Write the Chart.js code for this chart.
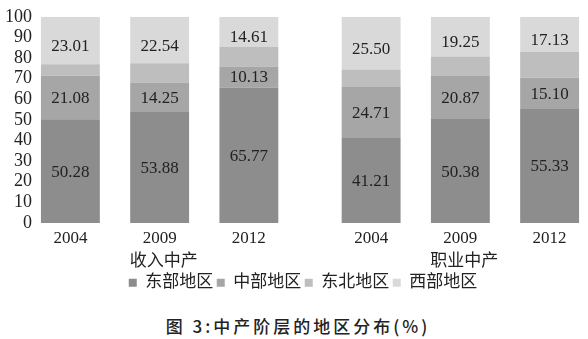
<!DOCTYPE html>
<html>
<head>
<meta charset="utf-8">
<script src="https://cdn.jsdelivr.net/npm/chart.js@4"></script>
<style>
  body { margin: 0; background: #fff; width: 588px; height: 339px; position: relative; overflow: hidden; }
  #wrap { position: absolute; left: 0; top: 0; width: 588px; height: 300px; }
  #caption { position: absolute; top: 313px; left: 0; width: 596px; text-align: center; font: 500 17px "Noto Sans CJK SC", sans-serif; letter-spacing: 3px; color: #222; white-space: nowrap; }
</style>
</head>
<body>
<div id="wrap"><canvas id="regionChart"></canvas></div>
<div id="caption">图 3:中产阶层的地区分布(%)</div>
<script>
const years = ['2004', '2009', '2012'];
const groups = ['收入中产', '职业中产'];
const regions = ['东部地区', '中部地区', '东北地区', '西部地区'];

// shares per bar: 收入中产 2004/2009/2012, then 职业中产 2004/2009/2012
const east = [50.28, 53.88, 65.77, 41.21, 50.38, 55.33];
const central = [21.08, 14.25, 10.13, 24.71, 20.87, 15.10];
const northeast = [5.63, 9.33, 9.49, 8.58, 9.50, 12.44];
const west = [23.01, 22.54, 14.61, 25.50, 19.25, 17.13];

const regionColors = ['#8d8d8d', '#a6a6a6', '#bebebe', '#d9d9d9'];
const showValues = [true, true, false, true];
const labelNudge = [0, 0, 0, 5];

// each group takes 3 slots plus a little extra space before the next one
const groupStep = 3.37;
const positions = groups.flatMap((g, gi) => years.map((y, i) => gi * groupStep + i));

const serif = '"Liberation Serif", "Times New Roman", "Noto Sans CJK SC", serif';
const plotBottom = 223;
const legendMid = 286;

const series = [east, central, northeast, west];
const datasets = regions.map((name, k) => ({
  label: name,
  data: series[k].map((v, i) => ({ x: positions[i], y: v })),
  backgroundColor: regionColors[k],
  borderWidth: 0,
  barPercentage: 0.66,
  categoryPercentage: 1
}));

const valueLabels = {
  id: 'valueLabels',
  afterDatasetsDraw(chart) {
    const ctx = chart.ctx;
    ctx.save();
    ctx.font = '17px ' + serif;
    ctx.fillStyle = '#222';
    ctx.textAlign = 'center';
    ctx.textBaseline = 'middle';
    chart.data.datasets.forEach((ds, k) => {
      if (!showValues[k]) return;
      chart.getDatasetMeta(k).data.forEach((bar, i) => {
        const mid = (bar.y + bar.base) / 2;
        ctx.fillText(series[k][i].toFixed(2), bar.x, mid + 1 + labelNudge[k]);
      });
    });
    ctx.restore();
  }
};

// group names sit under the middle bar of each group
const groupLabels = {
  id: 'groupLabels',
  afterDraw(chart) {
    const ctx = chart.ctx;
    const xs = chart.scales.x;
    ctx.save();
    ctx.font = '17px ' + serif;
    ctx.fillStyle = '#222';
    ctx.textAlign = 'center';
    ctx.textBaseline = 'middle';
    groups.forEach((g, gi) => {
      const x = xs.getPixelForValue(gi * groupStep + 1) + 4;
      ctx.fillText(g, x, chart.chartArea.bottom + 39);
    });
    ctx.restore();
  }
};

// move the legend row slightly right and pin its vertical centre
const legendShift = {
  id: 'legendShift',
  afterUpdate(chart) {
    const lg = chart.legend;
    const dy = legendMid - (lg.top + lg.bottom) / 2;
    lg.left += 12;
    lg.right += 12;
    lg.top += dy;
    lg.bottom += dy;
    lg.adjustHitBoxes();
  }
};

new Chart(document.getElementById('regionChart'), {
  type: 'bar',
  data: { datasets },
  options: {
    responsive: true,
    maintainAspectRatio: false,
    animation: false,
    layout: { padding: { top: 4, right: 6, bottom: 0, left: 0 } },
    scales: {
      x: {
        type: 'linear',
        stacked: true,
        offset: false,
        min: -0.363,
        max: groupStep + 2 + 0.363,
        grid: { display: false, drawTicks: false },
        border: { display: false },
        afterBuildTicks(scale) {
          scale.ticks = positions.map(v => ({ value: v }));
        },
        afterFit(scale) {
          const lgH = scale.chart.legend ? scale.chart.legend.height : 0;
          scale.height = Math.max(20, scale.chart.height - lgH - plotBottom);
        },
        ticks: {
          padding: 5,
          color: '#222',
          font: { family: serif, size: 17 },
          autoSkip: false,
          maxRotation: 0,
          callback(value, index) { return years[index % years.length]; }
        }
      },
      y: {
        stacked: true,
        min: 0,
        max: 100,
        grid: { display: false, drawTicks: false },
        border: { display: false },
        afterFit(scale) { scale.width = 38; },
        ticks: {
          stepSize: 10,
          autoSkip: false,
          padding: 6,
          color: '#222',
          font: { family: serif, size: 18 }
        }
      }
    },
    plugins: {
      legend: {
        position: 'bottom',
        labels: {
          boxWidth: 8,
          boxHeight: 8,
          padding: 3.5,
          color: '#222',
          font: { family: serif, size: 17 }
        }
      },
      tooltip: { enabled: false }
    }
  },
  plugins: [valueLabels, groupLabels, legendShift]
});
</script>
</body>
</html>
